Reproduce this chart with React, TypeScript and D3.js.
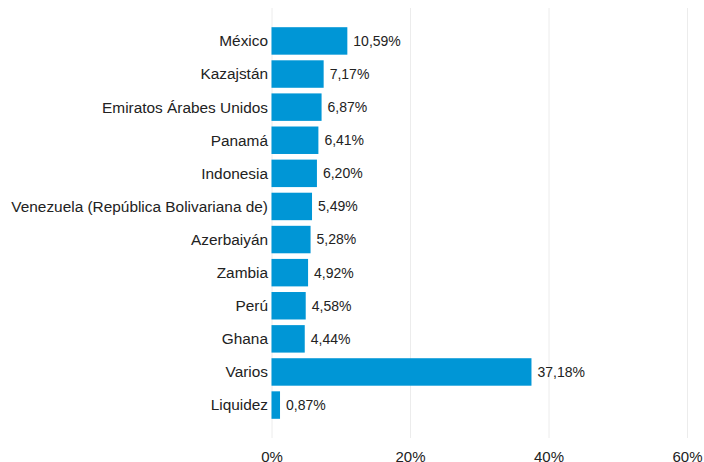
import React from "react";
import * as d3 from "d3";

const categories = [
  "México",
  "Kazajstán",
  "Emiratos Árabes Unidos",
  "Panamá",
  "Indonesia",
  "Venezuela (República Bolivariana de)",
  "Azerbaiyán",
  "Zambia",
  "Perú",
  "Ghana",
  "Varios",
  "Liquidez",
];
const values = [10.59, 7.17, 6.87, 6.41, 6.2, 5.49, 5.28, 4.92, 4.58, 4.44, 37.18, 0.87];
const tickValues = [0, 20, 40, 60];

const W = 704;
const H = 462;
const FONT = "'Liberation Sans', Arial, sans-serif";

export default function App() {
  const x = d3.scaleLinear().domain([0, 60]).range([272, 687.5]);
  const y = d3
    .scaleBand<string>()
    .domain(categories)
    .range([8, 438])
    .paddingInner(0.17)
    .paddingOuter(0.58);
  const fmt = (v: number) => v.toFixed(2).replace(".", ",") + "%";

  return (
    <svg
      width={W}
      height={H}
      style={{ position: "absolute", left: 0, top: 0, background: "#fff" }}
      fontFamily={FONT}
    >
      {tickValues.map((t) => (
        <g key={t}>
          <line x1={x(t)} x2={x(t)} y1={8} y2={438} stroke="#ececec" strokeWidth={1} />
          <text x={x(t)} y={462} fontSize={15} textAnchor="middle" fill="#222">
            {t}%
          </text>
        </g>
      ))}
      {categories.map((c, i) => {
        const y0 = y(c)!;
        const bw = y.bandwidth();
        return (
          <g key={c}>
            <rect
              x={x(0) - 0.5}
              y={y0}
              width={x(values[i]) - x(0) + 2.5}
              height={bw}
              fill="#0096d6"
            />
            <text
              x={268}
              y={y0 + bw / 2}
              dy="0.35em"
              fontSize={15.4}
              textAnchor="end"
              fill="#222"
            >
              {c}
            </text>
            <text
              x={x(values[i]) + 8}
              y={y0 + bw / 2}
              dy="0.35em"
              fontSize={14}
              fill="#222"
            >
              {fmt(values[i])}
            </text>
          </g>
        );
      })}
    </svg>
  );
}
